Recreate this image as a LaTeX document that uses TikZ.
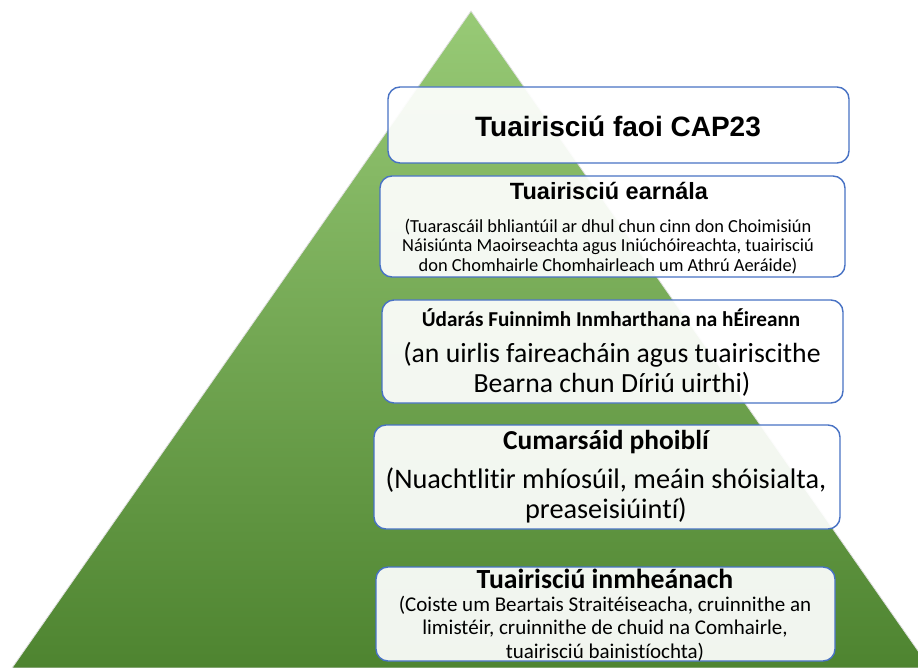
\documentclass[tikz,border=0pt]{standalone}
\usepackage{fontspec}
\setmainfont{Carlito}[Ligatures=NoCommon]
\newfontfamily\arialfont{Liberation Sans}
\begin{document}
\begin{tikzpicture}[x=1pt,y=-1pt,
  box/.style={draw=boxblue, line width=1.4pt, rounded corners=12pt, fill=white, fill opacity=0.92, text opacity=1, inner sep=0pt},
  txt/.style={inner sep=0pt, align=center, text=black}]
\definecolor{boxblue}{RGB}{72,114,196}
\definecolor{gtop}{RGB}{152,202,118}
\definecolor{gbot}{RGB}{78,132,48}
\useasboundingbox (0,0) rectangle (918,668);
\begin{scope}
\clip (0,0) rectangle (918,668);
\path[top color=gtop, bottom color=gbot, draw=black!12, line width=0.8pt] (471,11) -- (12,668) -- (930,668) -- cycle;
\end{scope}
% boxes
\node[box, minimum width=461, minimum height=76] (b1) at (618.5,125) {};
\node[box, minimum width=465, minimum height=101] (b2) at (612.5,226.5) {};
\node[box, minimum width=461, minimum height=103] (b3) at (612.5,351.5) {};
\node[box, minimum width=466, minimum height=104] (b4) at (607,477) {};
\node[box, minimum width=459, minimum height=94] (b5) at (605.5,614) {};
% texts
\node[txt, font=\arialfont\bfseries\fontsize{28}{32}\selectfont] (t1) at (618,126) {Tuairisciú faoi CAP23};
\node[txt, font=\arialfont\bfseries\fontsize{23.5}{26}\selectfont] (t2) at (609,191) {Tuairisciú earnála};
\node[txt, font=\fontsize{18.4}{19.5}\selectfont] (t2b) at (608,246.5) {(Tuarascáil bhliantúil ar dhul chun cinn don Choimisiún\\Náisiúnta Maoirseachta agus Iniúchóireachta, tuairisciú\\don Chomhairle Chomhairleach um Athrú Aeráide)};
\node[txt, font=\bfseries\fontsize{21.2}{24}\selectfont] (t3) at (611,318) {Údarás Fuinnimh Inmharthana na hÉireann};
\node[txt, font=\fontsize{27.7}{30}\selectfont] (t3b) at (612,369) {(an uirlis faireacháin agus tuairiscithe\\Bearna chun Díriú uirthi)};
\node[txt, font=\bfseries\fontsize{27.4}{30}\selectfont] (t4) at (606,442) {Cumarsáid phoiblí};
\node[txt, font=\fontsize{28.3}{30}\selectfont] (t4b) at (606,495) {(Nuachtlitir mhíosúil, meáin shóisialta,\\preaseisiúintí)};
\node[txt, font=\bfseries\fontsize{27.7}{30}\selectfont] (t5) at (605,579) {Tuairisciú inmheánach};
\node[txt, font=\fontsize{21}{23.5}\selectfont] (t5b) at (605,628.5) {(Coiste um Beartais Straitéiseacha, cruinnithe an\\limistéir, cruinnithe de chuid na Comhairle,\\tuairisciú bainistíochta)};
\end{tikzpicture}
\end{document}
